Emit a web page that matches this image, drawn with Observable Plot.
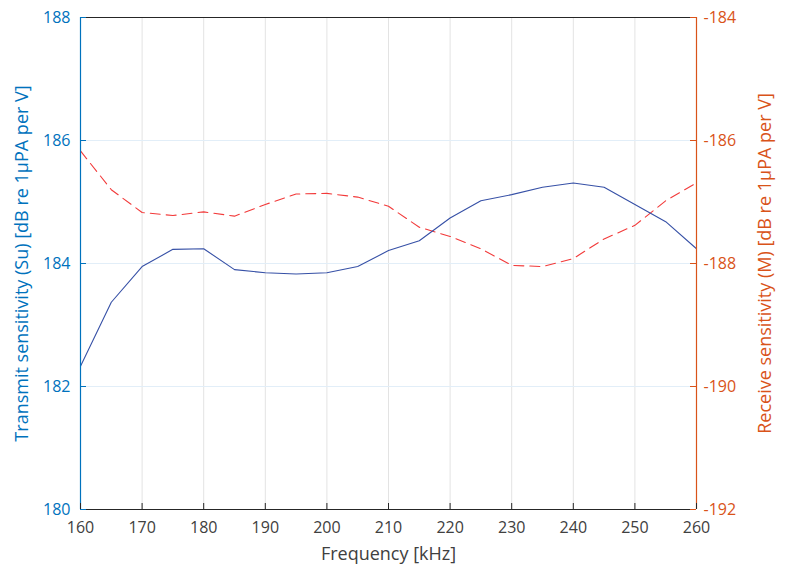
<!DOCTYPE html>
<html>
<head>
<meta charset="utf-8">
<script src="https://cdn.jsdelivr.net/npm/d3@7"></script>
<script src="https://cdn.jsdelivr.net/npm/@observablehq/plot@0.6"></script>
<style>
  html, body { margin: 0; padding: 0; background: #fff; }
</style>
</head>
<body>
<div id="chart"></div>
<script>
const frequency = [160,165,170,175,180,185,190,195,200,205,210,215,220,225,230,235,240,245,250,255,260];
const transmit = [182.33,183.37,183.95,184.23,184.24,183.90,183.85,183.83,183.85,183.95,184.21,184.37,184.74,185.02,185.12,185.24,185.31,185.24,184.96,184.68,184.24];
const receive = [-186.17,-186.80,-187.17,-187.22,-187.16,-187.23,-187.04,-186.87,-186.86,-186.92,-187.07,-187.41,-187.56,-187.76,-188.03,-188.05,-187.92,-187.60,-187.38,-186.98,-186.69];

const xTicks = [160,170,180,190,200,210,220,230,240,250,260];
const leftTicks = [180,182,184,186,188];
const rightTicks = [-192,-190,-188,-186,-184];
const leftDomain = [180,188];
const rightDomain = [-192,-184];

const xLabel = "Frequency [kHz]";
const leftLabel = "Transmit sensitivity (Su) [dB re 1\u00b5PA per V]";
const rightLabel = "Receive sensitivity (M) [dB re 1\u00b5PA per V]";

// map right axis values onto left scale
const shift = leftDomain[0] - rightDomain[0];
const toLeft = v => v + shift;

const tData = frequency.map((f, i) => ({f, v: transmit[i]}));
const rData = frequency.map((f, i) => ({f, v: toLeft(receive[i])}));

const W = 786, H = 567;
const mL = 80, mR = 90, mT = 17, mB = 58;
const pw = W - mL - mR, ph = H - mT - mB;
const blueAxis = "#0072BD", redAxis = "#D95319";
const font = "'Open Sans', 'Noto Sans', sans-serif";

const chart = Plot.plot({
  width: W, height: H,
  marginLeft: mL, marginRight: mR, marginTop: mT, marginBottom: mB,
  style: {fontFamily: font, fontSize: "16px", background: "#fff"},
  x: {domain: [160, 260]},
  y: {domain: leftDomain},
  marks: [
    // grid
    Plot.ruleX(xTicks.slice(1, -1), {stroke: "#e3e3e3", strokeWidth: 1}),
    Plot.ruleY(leftTicks.slice(1, -1), {stroke: "#e2eef8", strokeWidth: 1.2}),
    // data
    Plot.line(rData, {x: "f", y: "v", stroke: "#f23a3a", strokeWidth: 1.1, strokeDasharray: "10,6"}),
    Plot.line(tData, {x: "f", y: "v", stroke: "#3650a6", strokeWidth: 1.1}),
    // box
    Plot.ruleY([leftDomain[1]], {stroke: "#262626", strokeWidth: 1}),
    Plot.ruleY([leftDomain[0]], {stroke: "#262626", strokeWidth: 1}),
    Plot.ruleX([160], {stroke: blueAxis, strokeWidth: 1.2}),
    Plot.ruleX([260], {stroke: redAxis, strokeWidth: 1.2}),
    // inward ticks
    Plot.ruleX(xTicks, {stroke: "#262626", insetTop: ph - 6}),
    Plot.ruleY(leftTicks, {stroke: blueAxis, insetRight: pw - 6}),
    Plot.ruleY(rightTicks.map(toLeft), {stroke: redAxis, insetLeft: pw - 6}),
    // axes labels
    Plot.axisX(xTicks, {tickSize: 0, tickPadding: 9, dy: 3, color: "#404040", label: null, fontSize: 16, tickFormat: d => String(d)}),
    Plot.axisY(leftTicks, {anchor: "left", tickSize: 0, tickPadding: 10, color: blueAxis, label: null, fontSize: 16, tickFormat: d => String(d)}),
    Plot.axisY(rightTicks.map(toLeft), {anchor: "right", tickSize: 0, tickPadding: 7, color: redAxis, label: null, fontSize: 16,
      tickFormat: d => String(d - shift)}),
    Plot.text([xLabel], {frameAnchor: "bottom", dy: 50, text: d => d, fill: "#404040", fontSize: 18, textAnchor: "middle"}),
    Plot.text([leftLabel], {frameAnchor: "left", dx: -58, rotate: -90, text: d => d, fill: blueAxis, fontSize: 18, textAnchor: "middle"}),
    Plot.text([rightLabel], {frameAnchor: "right", dx: 69, rotate: -90, text: d => d, fill: redAxis, fontSize: 18, textAnchor: "middle"})
  ]
});
document.getElementById("chart").appendChild(chart);
</script>
</body>
</html>
